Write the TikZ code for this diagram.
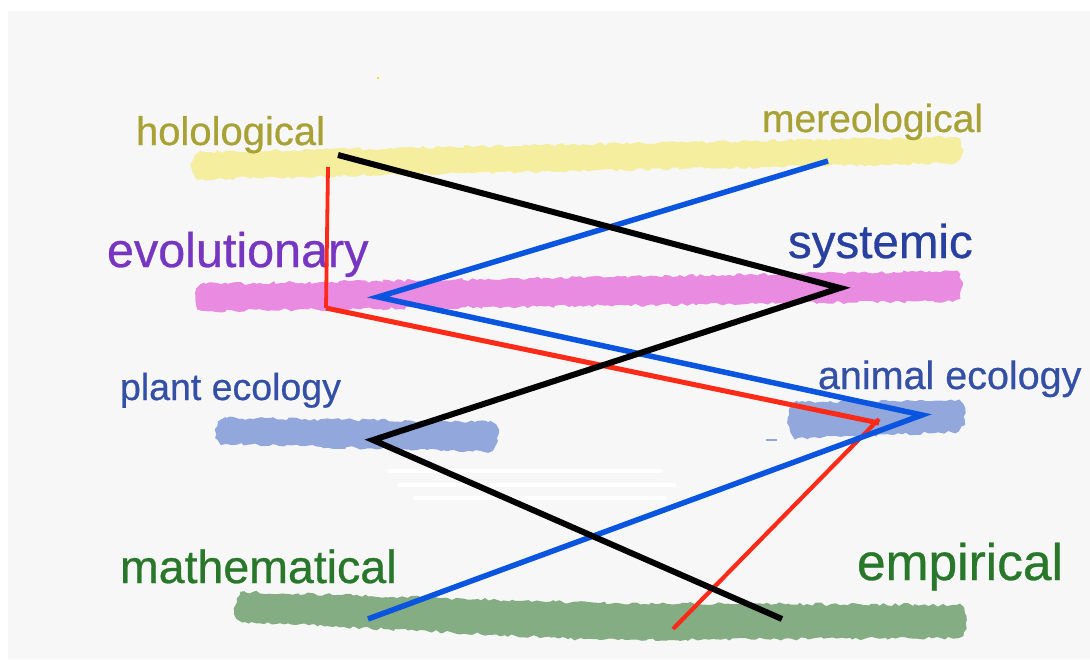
\documentclass[tikz,border=0pt]{standalone}
\usepackage{fontspec}
\setmainfont{Liberation Sans}
\newfontfamily\lblfont{Liberation Sans}[FakeBold=0.6]
\usetikzlibrary{decorations.pathmorphing}
\definecolor{bgc}{HTML}{F7F7F7}
\definecolor{yband}{HTML}{F4EE9E}
\definecolor{pband}{HTML}{E98BE0}
\definecolor{bband}{HTML}{92A8DC}
\definecolor{gband}{HTML}{84AD83}
\definecolor{olivet}{HTML}{A8A135}
\definecolor{purplet}{HTML}{7636C2}
\definecolor{navyt}{HTML}{2841A0}
\definecolor{bluet}{HTML}{334FA6}
\definecolor{greent}{HTML}{28772A}
\definecolor{lineblue}{HTML}{0A55E0}
\definecolor{linered}{HTML}{FF2A18}
\newcommand{\mkband}[7]{%
  \fill[#1,decorate,decoration={random steps,segment length=4pt,amplitude=1.6pt}]
    (#2,#3) -- (#5,#6) .. controls (#5+13,#6) and (#5+13,#7) .. (#5,#7)
    -- (#2,#4) .. controls (#2-13,#4) and (#2-13,#3) .. (#2,#3) -- cycle;}
\tikzset{
  lbl/.style={anchor=base west,inner sep=0pt,outer sep=0pt},
  blk/.style={draw=black,line width=6pt,line join=miter,line cap=butt},
  blu/.style={draw=lineblue,line width=5.5pt,line join=miter,line cap=butt},
  rd/.style={draw=linered,line width=5pt,line join=miter,line cap=butt},
  streak/.style={draw=white,line width=3.5pt,line cap=round}
}
\begin{document}
\begin{tikzpicture}[x=1pt,y=-1pt]
\useasboundingbox (0,0) rectangle (1090,659);
\fill[white] (0,0) rectangle (1090,659);
\fill[bgc] (8,11) rectangle (1090,659);
% brush bands
\mkband{yband}{202}{152}{179}{953}{137}{163}
\mkband{pband}{205}{284}{311}{952}{271}{301}
\mkband{bband}{226}{418}{444}{488}{422}{452}
\mkband{bband}{798}{402}{438}{955}{401}{432}
\fill[gband,decorate,decoration={random steps,segment length=4pt,amplitude=1.6pt}]
  (245,592) -- (600,603) -- (957,605) .. controls (970,605) and (970,638) .. (957,638)
  -- (600,640) -- (245,622) .. controls (232,622) and (232,592) .. (245,592) -- cycle;
% white streaks
\draw[streak] (389,471) -- (661,471);
\draw[streak] (399,485) -- (675,485);
\draw[streak] (415,498) -- (665,498);
\draw[bband,line width=1.5pt] (766,440) -- (777,440);
\fill[yellow!80!olive] (378,78) circle (1.2pt);
% labels
\node[lbl,text=olivet,font=\lblfont\fontsize{40}{44}\selectfont] (holo) at (136,145) {holological};
\node[lbl,text=olivet,font=\lblfont\fontsize{39}{43}\selectfont] (mereo) at (762,132) {mereological};
\node[lbl,text=purplet,font=\lblfont\fontsize{48.5}{52}\selectfont] (evo) at (107,267) {evolutionary};
\node[lbl,text=navyt,font=\lblfont\fontsize{47.5}{52}\selectfont] (sys) at (788,258) {systemic};
\node[lbl,text=bluet,font=\lblfont\fontsize{37.5}{41}\selectfont] (plant) at (120,400) {plant ecology};
\node[lbl,text=bluet,font=\lblfont\fontsize{39.5}{43}\selectfont] (animal) at (818,389) {animal ecology};
\node[lbl,text=greent,font=\lblfont\fontsize{46.5}{50}\selectfont] (math) at (120,583) {mathematical};
\node[lbl,text=greent,font=\lblfont\fontsize{51.5}{55}\selectfont] (emp) at (857,580) {empirical};
% path vertices
\coordinate (k1) at (338,155);
\coordinate (k2) at (840,288);
\coordinate (k3) at (373,440);
\coordinate (k4) at (782,619);
\coordinate (b1) at (828,161);
\coordinate (b2) at (378,297);
\coordinate (b3) at (922,415);
\coordinate (b4) at (368,619);
\coordinate (r1) at (328,167);
\coordinate (r2) at (326,308);
\coordinate (r3) at (879,423);
\coordinate (r4) at (673,629);
% connectors
\draw[rd,line width=3.8pt] (r1) -- (r2);
\draw[rd] (r2) -- (r3);
\draw[rd,line width=4.2pt] ([yshift=4pt]r3) -- (r4);
\draw[blu] (b1) -- (b2) -- (b3) -- (b4);
\draw[blk] (k1) -- (k2) -- (k3) -- (k4);
\end{tikzpicture}
\end{document}
